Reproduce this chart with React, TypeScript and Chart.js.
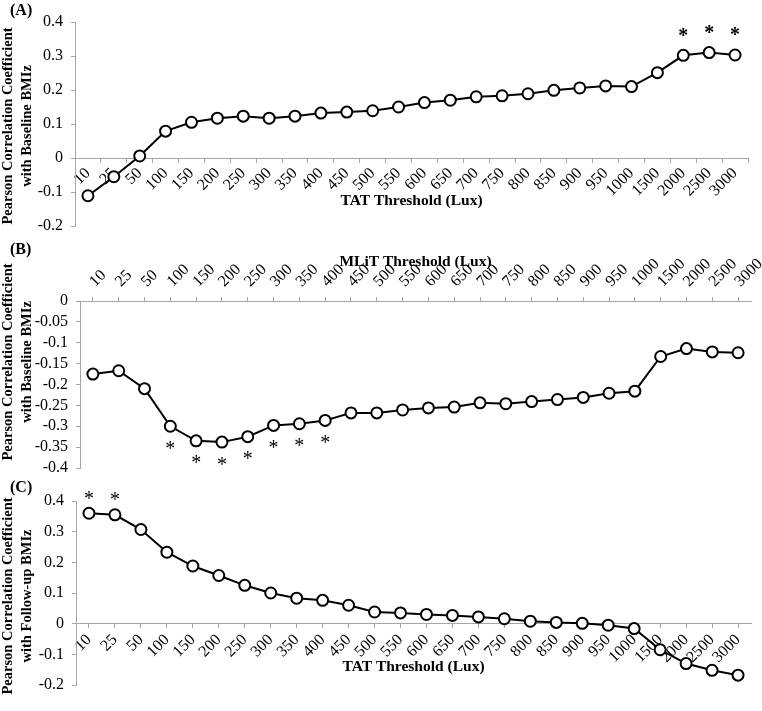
import React, { useEffect, useRef } from 'react';
import { Chart, registerables } from 'chart.js';

Chart.register(...registerables);

// ---------- data ----------
const thresholds = ['10', '25', '50', '100', '150', '200', '250', '300', '350', '400', '450', '500', '550', '600', '650', '700', '750', '800', '850', '900', '950', '1000', '1500', '2000', '2500', '3000'];

// (A) TAT threshold vs baseline BMIz
const tatBaselineR = [-0.111, -0.055, 0.006, 0.079, 0.105, 0.117, 0.123, 0.117, 0.123, 0.132, 0.135, 0.139, 0.15, 0.163, 0.17, 0.18, 0.183, 0.189, 0.199, 0.206, 0.212, 0.21, 0.251, 0.302, 0.31, 0.303];
// (B) MLiT threshold vs baseline BMIz
const mlitBaselineR = [-0.175, -0.167, -0.21, -0.3, -0.335, -0.338, -0.325, -0.298, -0.294, -0.286, -0.268, -0.268, -0.261, -0.256, -0.254, -0.244, -0.246, -0.241, -0.236, -0.231, -0.221, -0.216, -0.133, -0.114, -0.122, -0.124];
// (C) TAT threshold vs follow-up BMIz
const tatFollowupR = [0.36, 0.355, 0.307, 0.233, 0.188, 0.157, 0.125, 0.1, 0.083, 0.076, 0.06, 0.038, 0.035, 0.03, 0.027, 0.022, 0.016, 0.008, 0.004, 0.001, -0.005, -0.016, -0.085, -0.13, -0.152, -0.168];

// significant thresholds (asterisks)
const tatBaselineSig = ['2000', '2500', '3000'];
const mlitBaselineSig = ['100', '150', '200', '250', '300', '350', '400'];
const tatFollowupSig = ['10', '25'];

// y tick labels
const yTicksA = [-0.2, -0.1, 0, 0.1, 0.2, 0.3, 0.4];
const yTicksB = [-0.4, -0.35, -0.3, -0.25, -0.2, -0.15, -0.1, -0.05, 0];
const yTicksC = [-0.2, -0.1, 0, 0.1, 0.2, 0.3, 0.4];

// ---------- style ----------
const SERIF = "'Liberation Serif', 'Times New Roman', serif";
const GREY = '#a6a6a6';
const CW = 762;
const CH = 711;

type PanelSpec = {
  values: number[];
  sig: string[];
  sigDir: number; // -1 above, +1 below
  sigOffset: number;
  sigWeight: string;
  yTicks: number[];
  yTitle: string[];
  yTitleCenter: number;
  xTitle: string;
  xPos: any;
  gridOffset: boolean;
  yWidth: number;
  xHeight: number;
  padding: { top: number; bottom: number; left: number; right: number };
  tickPad: number;
  labelOffset: number;
};

function starPlugin(spec: PanelSpec) {
  return {
    id: 'stars',
    afterDatasetsDraw(chart: any) {
      const meta = chart.getDatasetMeta(0);
      const ctx = chart.ctx;
      ctx.save();
      ctx.fillStyle = '#000';
      ctx.font = `${spec.sigWeight} 20px ${SERIF}`;
      ctx.textAlign = 'center';
      ctx.textBaseline = 'alphabetic';
      spec.sig.forEach((lab) => {
        const i = thresholds.indexOf(lab);
        const el = meta.data[i];
        if (!el) return;
        ctx.fillText('*', el.x, el.y + spec.sigDir * spec.sigOffset + 9.4);
      });
      ctx.restore();
    },
  };
}

// vertical (rotated) y-axis title, two lines
function yTitlePlugin(spec: PanelSpec) {
  const lineX = [8, 27];
  return {
    id: 'ytitle',
    afterDraw(chart: any) {
      const ctx = chart.ctx;
      ctx.save();
      ctx.fillStyle = '#000';
      ctx.font = `bold 14.5px ${SERIF}`;
      ctx.textAlign = 'center';
      ctx.textBaseline = 'middle';
      spec.yTitle.forEach((line, k) => {
        ctx.save();
        ctx.translate(lineX[k], spec.yTitleCenter);
        ctx.rotate(-Math.PI / 2);
        ctx.fillText(line, 0, 0);
        ctx.restore();
      });
      ctx.restore();
    },
  };
}

function buildConfig(spec: PanelSpec): any {
  const tickFont = { family: SERIF, size: 16 };
  return {
    type: 'line',
    data: {
      labels: thresholds,
      datasets: [
        {
          data: spec.values,
          borderColor: '#000',
          borderWidth: 2,
          pointRadius: 5.5,
          pointBorderWidth: 2,
          pointBackgroundColor: '#fff',
          pointBorderColor: '#000',
          tension: 0,
          clip: false,
        },
      ],
    },
    options: {
      responsive: false,
      animation: false,
      events: [],
      layout: { padding: spec.padding },
      plugins: { legend: { display: false }, tooltip: { enabled: false }, title: { display: false } },
      scales: {
        x: {
          type: 'category',
          position: spec.xPos,
          offset: true,
          grid: {
            offset: spec.gridOffset,
            drawOnChartArea: false,
            drawTicks: true,
            tickLength: 4,
            color: GREY,
          },
          border: { color: GREY, width: 1 },
          ticks: {
            minRotation: 45,
            maxRotation: 45,
            autoSkip: false,
            padding: spec.tickPad,
            labelOffset: spec.labelOffset,
            color: '#000',
            font: tickFont,
          },
          title: {
            display: true,
            text: spec.xTitle,
            color: '#000',
            font: { family: SERIF, size: 15.5, weight: 'bold', lineHeight: 1.2 },
            padding: { top: 0, bottom: 0 },
          },
          afterFit(scale: any) {
            scale.height = spec.xHeight;
            scale.paddingLeft = 0;
            scale.paddingRight = 0;
          },
        },
        y: {
          type: 'linear',
          position: 'left',
          min: spec.yTicks[0],
          max: spec.yTicks[spec.yTicks.length - 1],
          afterBuildTicks(scale: any) {
            scale.ticks = spec.yTicks.map((v) => ({ value: v }));
          },
          grid: {
            drawOnChartArea: false,
            drawTicks: true,
            tickLength: 4,
            color: GREY,
          },
          border: { color: GREY, width: 1 },
          ticks: {
            autoSkip: false,
            padding: 8,
            color: '#000',
            font: tickFont,
            callback: (v: number) => String(Math.round(v * 100) / 100),
          },
          title: { display: false },
          afterFit(scale: any) {
            scale.width = spec.yWidth;
            scale.paddingTop = 0;
            scale.paddingBottom = 0;
          },
        },
      },
    },
    plugins: [starPlugin(spec), yTitlePlugin(spec)],
  };
}

const panelA: PanelSpec = {
  values: tatBaselineR,
  sig: tatBaselineSig,
  sigDir: -1,
  sigOffset: 23,
  sigWeight: 'bold',
  yTicks: yTicksA,
  yTitle: ['Pearson Correlation Coefficient', 'with Baseline BMIz'],
  yTitleCenter: 126,
  xTitle: 'TAT Threshold (Lux)',
  xPos: { y: 0 },
  gridOffset: true,
  yWidth: 75,
  xHeight: 52,
  padding: { top: 22, bottom: CH - 226, left: 0, right: CW - 748 },
  tickPad: 2,
  labelOffset: 0,
};

const panelB: PanelSpec = {
  values: mlitBaselineR,
  sig: mlitBaselineSig,
  sigDir: 1,
  sigOffset: 19,
  sigWeight: 'normal',
  yTicks: yTicksB,
  yTitle: ['Pearson Correlation Coefficient', 'with Baseline BMIz'],
  yTitleCenter: 362,
  xTitle: 'MLiT Threshold (Lux)',
  xPos: 'top',
  gridOffset: false,
  yWidth: 80,
  xHeight: 48,
  padding: { top: 253, bottom: CH - 468, left: 0, right: CW - 751 },
  tickPad: 6,
  labelOffset: 13,
};

const panelC: PanelSpec = {
  values: tatFollowupR,
  sig: tatFollowupSig,
  sigDir: -1,
  sigOffset: 18,
  sigWeight: 'normal',
  yTicks: yTicksC,
  yTitle: ['Pearson Correlation Coefficient', 'with Follow-up BMIz'],
  yTitleCenter: 596,
  xTitle: 'TAT Threshold (Lux)',
  xPos: { y: 0 },
  gridOffset: false,
  yWidth: 76,
  xHeight: 53,
  padding: { top: 501, bottom: CH - 685, left: 0, right: CW - 751 },
  tickPad: 3,
  labelOffset: 0,
};

function Panel({ spec }: { spec: PanelSpec }) {
  const ref = useRef<HTMLCanvasElement | null>(null);
  useEffect(() => {
    if (!ref.current) return;
    const chart = new Chart(ref.current, buildConfig(spec));
    return () => chart.destroy();
  }, [spec]);
  return (
    <canvas
      ref={ref}
      width={CW}
      height={CH}
      style={{ position: 'absolute', left: 0, top: 0, width: CW, height: CH, display: 'block' }}
    />
  );
}

const labelStyle: React.CSSProperties = {
  position: 'absolute',
  left: 10,
  fontFamily: SERIF,
  fontWeight: 'bold',
  fontSize: 16,
  lineHeight: '18px',
  color: '#000',
};

export default function App() {
  return (
    <div
      style={{
        position: 'absolute',
        left: 0,
        top: 0,
        width: CW,
        height: 711,
        overflow: 'hidden',
        background: '#fff',
      }}
    >
      <Panel spec={panelA} />
      <Panel spec={panelB} />
      <Panel spec={panelC} />
      <div style={{ ...labelStyle, top: 1 }}>(A)</div>
      <div style={{ ...labelStyle, top: 240 }}>(B)</div>
      <div style={{ ...labelStyle, top: 478 }}>(C)</div>
    </div>
  );
}
